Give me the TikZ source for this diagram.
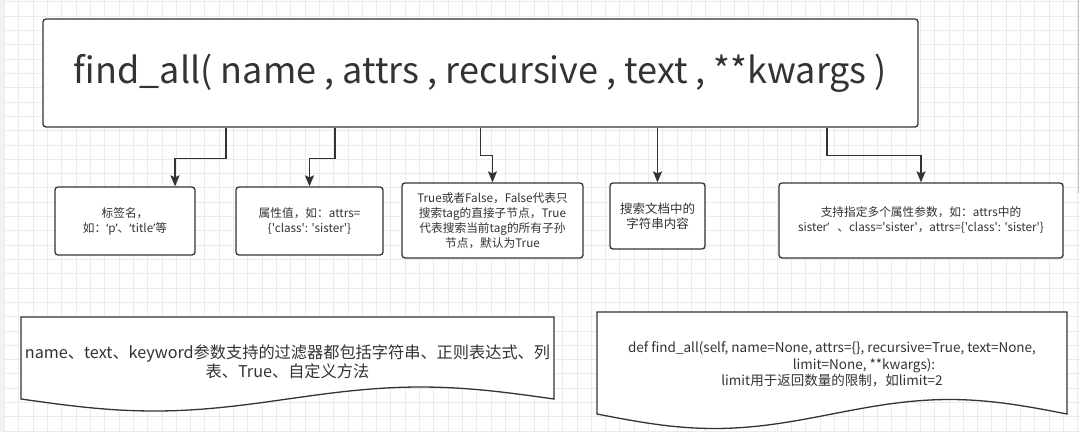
\documentclass[tikz,border=0pt]{standalone}
\usepackage{fontspec}
\setmainfont{Noto Sans CJK SC}[Ligatures=TeXOff]
\newfontfamily\lat{Noto Sans}
\usetikzlibrary{arrows.meta}
\definecolor{ink}{HTML}{333333}
\definecolor{gridc}{HTML}{EBEBEB}
\definecolor{strip}{HTML}{F2F2F2}
\newcommand{\myLq}{{\lat ‘}}
\newcommand{\myRq}{{\lat ’}}
\begin{document}
\begin{tikzpicture}[x=1pt,y=-1pt,
  box/.style={draw=ink, line width=1.3pt, rounded corners=3pt, fill=white, align=center, text=ink, font=\fontsize{11.7}{15}\selectfont, inner sep=0pt},
  conn/.style={draw=ink, line width=1.3pt, -{Stealth[length=11pt,width=9pt,inset=2pt]}},
  doc/.style={draw=ink, line width=1.3pt, fill=white},
  doctext/.style={align=center, text=ink, inner sep=0pt}]
\fill[white] (0,0) rectangle (1080,432);
\useasboundingbox (0,0) rectangle (1080,432);
\fill[strip] (0,0) rectangle (5,432);
\foreach \i in {0,...,75} \draw[gridc, line width=0.6pt] ({4.4+14.31*\i},0) -- ++(0,432);
\foreach \i in {0,...,30} \draw[gridc, line width=0.6pt] (5,{1.7+14.31*\i}) -- ++(1075,0);
\draw[gray!45, line width=0.8pt] (1078.5,0) -- (1078.5,193);

\node[box, minimum width=875pt, minimum height=108pt, font=\fontsize{36}{42}\selectfont] (main) at (480.5,73) {find\_all( name , attrs , recursive , text , **kwargs )};

\node[box, minimum width=140pt, minimum height=68pt] (b1) at (125,221) {标签名，\\如：\myLq p\myRq、\myLq title\myRq 等};
\node[box, minimum width=147pt, minimum height=68pt] (b2) at (309.5,221) {属性值，如：attrs=\\\{'class': 'sister'\}};
\node[box, minimum width=181pt, minimum height=75pt] (b3) at (492.5,220.5) {True或者False，False代表只\\搜索tag的直接子节点，True\\代表搜索当前tag的所有子孙\\节点，默认为True};
\node[box, minimum width=95pt, minimum height=66pt, font=\fontsize{12.5}{15}\selectfont] (b4) at (657.5,216) {搜索文档中的\\字符串内容};
\node[box, minimum width=284pt, minimum height=75pt] (b5) at (921,220.5) {支持指定多个属性参数，如：attrs中的\\sister\myRq\hspace{8pt}、class='sister'，attrs=\{'class': 'sister'\}};

\draw[conn] ([xshift=-254.5pt]main.south) -- ++(0,31) -| ([xshift=50pt]b1.north);
\draw[conn] ([xshift=-145.5pt]main.south) -- ++(0,31) -| (b2.north);
\draw[conn] (main.south) -- ++(0,28) -| (b3.north);
\draw[conn] ([xshift=177pt]main.south) -- (b4.north);
\draw[conn] ([xshift=346.5pt]main.south) -- ++(0,28) -| (b5.north);

\draw[doc] (21,399) -- (21,317) -- (554,317) -- (554,399) -- plot[domain=1:0,samples=60] ({21+533*\x},{399+12*sin(360*\x)}) -- cycle;
\node[doctext, font=\fontsize{16.2}{19}\selectfont] (note1) at (287.5,361.5) {name、text、keyword参数支持的过滤器都包括字符串、正则表达式、列\\表、True、自定义方法};

\draw[doc] (597,414) -- (597,312) -- (1067,312) -- (1067,414) -- plot[domain=1:0,samples=60] ({597+470*\x},{414+14.5*sin(360*\x)}) -- cycle;
\node[doctext, font=\fontsize{13.5}{16.5}\selectfont] (note2) at (832,364.5) {def find\_all(self, name=None, attrs=\{\}, recursive=True, text=None,\\\hspace*{64pt}limit=None, **kwargs):\\limit用于返回数量的限制，如limit=2};
\end{tikzpicture}
\end{document}
